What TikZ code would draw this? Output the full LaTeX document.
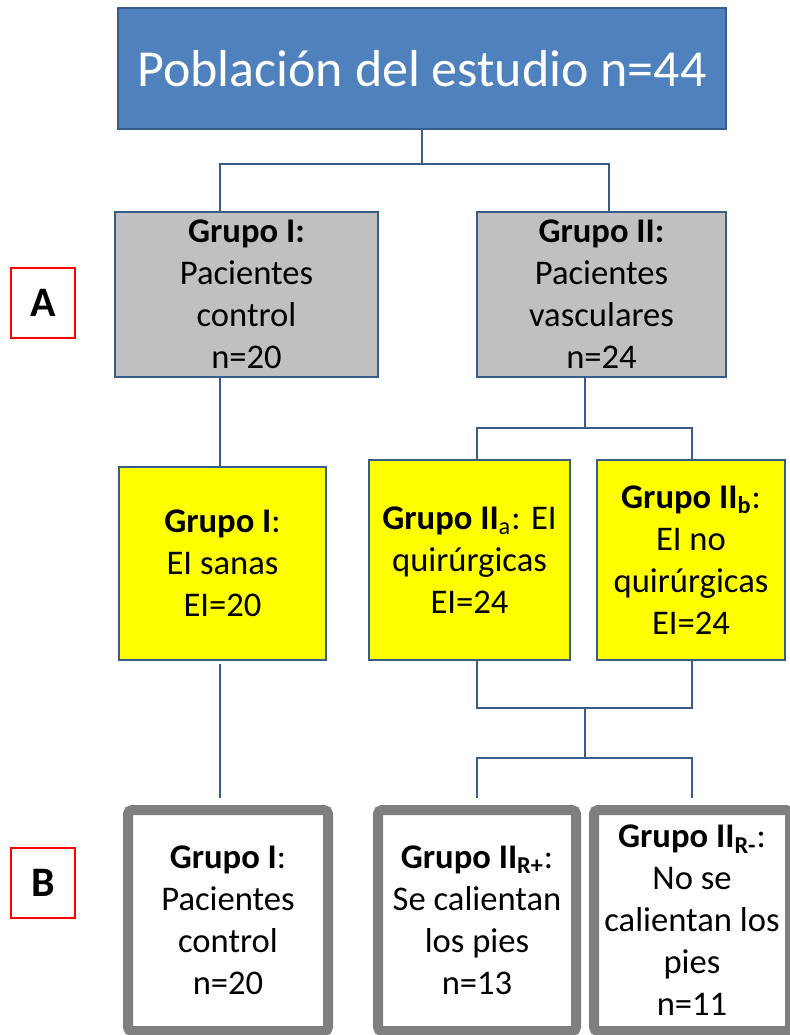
\documentclass[tikz,border=0pt]{standalone}
\usepackage{fontspec}
\setmainfont{Carlito}
\definecolor{popblue}{HTML}{4F81BD}
\definecolor{edgeblue}{HTML}{385D8A}
\definecolor{gris}{HTML}{C0C0C0}
\definecolor{amarillo}{HTML}{FFFF00}
\definecolor{marco}{HTML}{7F7F7F}
\tikzset{
  conn/.style={draw=edgeblue, line width=1pt},
  title/.style={rectangle, draw=edgeblue, line width=1pt, fill=popblue, text=white,
    inner sep=0pt, font=\fontsize{26}{30}\selectfont},
  grupo/.style={rectangle, draw=edgeblue, line width=0.8pt, fill=gris, align=center,
    inner sep=0pt, font=\fontsize{17.3}{21}\selectfont},
  eibox/.style={grupo, fill=amarillo},
  final/.style={rectangle, rounded corners=2pt, draw=marco, line width=5pt, fill=white,
    align=center, inner sep=0pt, minimum height=110.5pt, font=\fontsize{17.3}{21}\selectfont},
  fase/.style={rectangle, draw=red, line width=0.8pt, fill=white, inner sep=0pt,
    minimum width=32pt, minimum height=35pt, font=\bfseries\fontsize{21}{25}\selectfont}
}
\begin{document}
\begin{tikzpicture}[x=0.5pt,y=-0.5pt]
        \useasboundingbox (0,0) rectangle (789,1035);
        % columns of the connectors
        \coordinate (cL) at (220,0);
        \coordinate (cT) at (609,0);
        \coordinate (cM) at (585,0);
        \coordinate (cA) at (477,0);
        \coordinate (cB) at (692,0);
        \coordinate (j2) at (585,708);
        \coordinate (j3) at (585,758);

        \node at (422,68.5) [title,minimum width=304pt,minimum height=60.5pt] (pob) {Población del estudio n=44};

        \node at (246.5,294.5) [grupo,minimum width=131.5pt,minimum height=82.5pt] (g1) {\textbf{Grupo I:}\\Pacientes\\control\\n=20};
        \node at (601.5,294.5) [grupo,minimum width=124.5pt,minimum height=82.5pt] (g2) {\textbf{Grupo II:}\\Pacientes\\vasculares\\n=24};

        \node at (222.5,563.5) [eibox,minimum width=103.5pt,minimum height=96.5pt] (y1) {\textbf{Grupo I}:\\EI sanas\\EI=20};
        \node at (469.5,560) [eibox,minimum width=100.5pt,minimum height=100pt] (y2a) {\textbf{Grupo II}\textsubscript{a}: EI\\quirúrgicas\\EI=24};
        \node at (691,560) [eibox,minimum width=94pt,minimum height=100pt] (y2b) {\textbf{Grupo II\textsubscript{b}}:\\EI no\\quirúrgicas\\EI=24};

        \node at (228,920.5) [final,minimum width=100pt] (b1) {\textbf{Grupo I}:\\Pacientes\\control\\n=20};
        \node at (477,920.5) [final,minimum width=99pt] (b2) {\textbf{Grupo II\textsubscript{R+}}:\\Se calientan\\los pies\\n=13};
        \node at (692,920.5) [final,minimum width=98pt] (b3) {\textbf{Grupo II\textsubscript{R-}}:\\No se\\calientan los\\pies\\n=11};

        \node at (43,303) [fase] (fa) {A};
        \node at (43,883) [fase] (fb) {B};

        \draw[conn] (pob.south) -- ++(0,34) -| (g1.north -| cL);
        \draw[conn] (pob.south) -- ++(0,34) -| (g2.north -| cT);
        \draw[conn] (g1.south -| cL) -- (y1.north -| cL);
        \draw[conn] (g2.south -| cM) -- ++(0,50) -| (y2a.north -| cA);
        \draw[conn] (g2.south -| cM) -- ++(0,50) -| (y2b.north -| cB);
        \draw[conn,shorten <=1.5pt,shorten >=3.5pt] (y1.south -| cL) -- (b1.north -| cL);
        \draw[conn] (y2a.south -| cA) |- (j2) -| (y2b.south -| cB);
        \draw[conn] (j2) -- (j3);
        \draw[conn,shorten >=3.5pt] (j3) -| (b2.north -| cA);
        \draw[conn,shorten >=3.5pt] (j3) -| (b3.north -| cB);
\end{tikzpicture}
\end{document}
